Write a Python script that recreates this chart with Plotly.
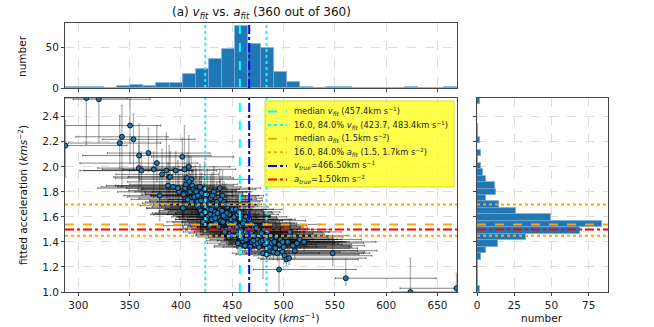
import numpy as np
import plotly.graph_objects as go

# ranges of the fitted values (histograms use 30 bins over these)
vel_min, vel_max = 287.0, 669.0
acc_min, acc_max = 1.0, 2.55

# histogram counts
vel_counts = [1, 1, 1, 0, 3, 4, 2, 6, 6, 17, 23, 36, 48, 76, 54,
              49, 20, 8, 1, 0, 1, 1, 0, 0, 0, 0, 1, 0, 0, 1]
acc_counts = [2, 1, 1, 1, 1, 3, 6, 14, 33, 69, 84, 50, 26, 15, 6,
              13, 12, 6, 4, 3, 1, 3, 0, 2, 1, 1, 0, 0, 0, 2]

# summary lines
v_med, v_p16, v_p84, v_true = 457.4, 423.7, 483.4, 466.5
a_med, a_p16, a_p84, a_true = 1.54, 1.45, 1.70, 1.50

# fitted points (estimated from the scatter)
vel_fit = [
    287.4, 307.8, 320.0, 340.3, 342.5, 350.4, 353.7, 359.2, 359.0, 361.5, 368.3, 373.5, 376.5, 381.6, 379.3, 385.8, 387.4, 388.5, 389.5, 392.3, 394.9, 398.1, 401.4, 397.0, 401.4,
    403.4, 407.6, 406.0, 410.0, 402.5, 404.0, 405.0, 408.0, 409.0, 411.0, 412.0, 413.0, 403.0, 406.5, 414.0, 410.5, 402.0,
    415.0, 416.0, 417.0, 418.0, 419.0, 420.0, 421.0, 422.0, 423.0, 424.0, 425.0, 426.0, 418.5, 420.5, 416.5, 422.5, 424.5, 426.5, 415.5, 419.5, 421.5, 423.5, 425.5,
    427.5, 428.5, 429.0, 430.0, 431.0, 432.0, 433.0, 434.0, 435.0, 436.0, 437.8, 438.0, 439.0, 428.0, 430.5, 432.5, 434.5, 436.5, 438.5, 429.5, 433.5, 435.5,
    440.0, 441.0, 442.0, 443.0, 444.0, 445.0, 446.0, 447.0, 448.0, 449.0, 450.0, 451.0, 452.0, 440.5, 442.5, 444.5, 446.5, 448.5, 450.5, 452.2, 441.5, 443.5, 447.5, 449.5,
    453.0, 454.0, 455.0, 456.0, 457.0, 458.0, 459.0, 460.0, 461.0, 462.0, 463.0, 464.0, 465.0, 453.5, 455.5, 457.5, 459.5, 461.5, 463.5, 454.5, 456.5, 458.5, 460.5, 462.5, 464.5, 455.2, 459.2, 463.2,
    466.0, 467.0, 468.0, 469.0, 470.0, 471.0, 472.0, 473.0, 474.0, 475.0, 476.0, 477.0, 466.5, 468.5, 470.5, 472.5, 474.5, 476.5, 467.5, 471.5, 473.5, 477.5,
    478.5, 479.5, 480.0, 481.0, 482.0, 483.0, 484.0, 485.0, 486.0, 487.0, 488.0, 489.0, 490.0, 480.5, 482.5, 484.5, 486.5, 488.5, 483.5, 487.5,
    491.0, 492.0, 493.0, 494.0, 495.6, 496.0, 497.0, 498.9, 500.0, 501.0, 502.8, 499.0, 505.4, 509.0, 513.0, 515.7, 507.0, 511.0, 504.0, 506.0, 520.0, 547.9, 560.6, 623.6, 668.5,
]
acc_fit = [
    2.17, 2.55, 2.54, 2.19, 2.24, 2.33, 2.22, 2.09, 1.99, 1.97, 2.11, 1.98, 2.03, 1.94, 1.77, 1.97, 1.85, 1.92, 1.92, 1.84, 1.97, 1.80, 2.08, 1.83, 1.67,
    1.98, 2.00, 1.91, 1.90, 1.78, 1.83, 1.86, 1.88, 1.80, 1.85, 1.82, 1.76, 1.70, 1.74, 1.81, 1.72, 1.67,
    1.80, 1.72, 1.68, 1.76, 1.65, 1.79, 1.70, 1.63, 1.82, 1.74, 1.67, 1.60, 1.84, 1.62, 1.77, 1.71, 1.58, 1.66, 1.69, 1.73, 1.56, 1.64, 1.78,
    1.70, 1.62, 1.75, 1.58, 1.68, 1.80, 1.64, 1.55, 1.72, 1.60, 1.83, 1.66, 1.57, 1.53, 1.77, 1.61, 1.69, 1.52, 1.74, 1.66, 1.59, 1.63,
    1.65, 1.56, 1.72, 1.60, 1.50, 1.68, 1.55, 1.62, 1.47, 1.58, 1.66, 1.52, 1.60, 1.77, 1.48, 1.63, 1.44, 1.54, 1.49, 1.56, 1.61, 1.70, 1.51, 1.45,
    1.55, 1.48, 1.62, 1.51, 1.44, 1.58, 1.50, 1.41, 1.54, 1.47, 1.60, 1.52, 1.45, 1.66, 1.39, 1.53, 1.46, 1.57, 1.42, 1.52, 1.64, 1.49, 1.55, 1.37, 1.50, 1.46, 1.43, 1.48,
    1.50, 1.44, 1.55, 1.40, 1.48, 1.52, 1.38, 1.46, 1.42, 1.50, 1.36, 1.45, 1.58, 1.47, 1.41, 1.53, 1.39, 1.48, 1.36, 1.45, 1.51, 1.40,
    1.47, 1.41, 1.31, 1.50, 1.38, 1.44, 1.35, 1.46, 1.40, 1.33, 1.43, 1.37, 1.32, 1.54, 1.42, 1.48, 1.36, 1.39, 1.30, 1.45,
    1.40, 1.35, 1.44, 1.31, 1.18, 1.38, 1.42, 1.32, 1.36, 1.29, 1.26, 1.40, 1.27, 1.37, 1.39, 1.42, 1.45, 1.33, 1.40, 1.48, 1.40, 1.31, 1.11, 1.00, 1.03,
]
vel_err_lo = [
    10, 20, 25, 50, 45, 65, 30, 55, 40, 60, 40, 50, 75, 45, 35, 80, 60, 40, 55, 70, 45, 60, 30, 50, 35,
    60, 45, 70, 50, 40, 85, 55, 60, 45, 75, 50, 40, 30, 55, 65, 45, 35,
    60, 35, 45, 70, 40, 55, 30, 50, 65, 45, 40, 35, 80, 50, 45, 60, 30, 40, 55, 50, 35, 45, 60,
    40, 55, 70, 35, 50, 60, 45, 30, 65, 40, 75, 50, 35, 45, 60, 40, 55, 30, 50, 45, 35, 60,
    50, 40, 65, 35, 45, 55, 30, 60, 40, 50, 45, 35, 55, 70, 40, 50, 30, 45, 35, 60, 40, 55, 45, 35,
    45, 35, 60, 40, 30, 55, 45, 35, 50, 40, 65, 45, 35, 70, 30, 50, 40, 55, 35, 45, 60, 40, 50, 30, 45, 40, 35, 50,
    40, 35, 50, 30, 45, 55, 35, 40, 30, 50, 35, 45, 60, 40, 35, 50, 30, 45, 35, 40, 55, 30,
    40, 35, 30, 45, 35, 40, 30, 50, 35, 30, 40, 35, 30, 55, 40, 45, 35, 40, 30, 45,
    35, 30, 40, 30, 25, 35, 40, 30, 35, 30, 25, 40, 30, 35, 40, 35, 45, 30, 40, 45, 35, 60, 10, 18, 55,
]
vel_err_hi = [
    60, 40, 50, 40, 45, 30, 60, 70, 35, 50, 60, 30, 40, 55, 40, 25, 45, 60, 35, 50, 40, 70, 50, 45, 40,
    50, 40, 45, 60, 35, 40, 50, 30, 55, 40, 45, 60, 50, 35, 40, 50, 45,
    35, 50, 40, 45, 60, 40, 55, 35, 50, 45, 30, 60, 40, 55, 35, 45, 50, 40, 30, 60, 45, 40, 35,
    45, 35, 50, 60, 40, 35, 55, 45, 30, 50, 40, 45, 60, 35, 45, 55, 40, 50, 35, 40, 60, 45,
    40, 55, 35, 50, 45, 40, 60, 35, 50, 45, 40, 55, 35, 40, 60, 45, 50, 35, 55, 40, 45, 35, 50, 60,
    50, 55, 40, 60, 45, 50, 55, 60, 45, 50, 40, 55, 60, 45, 50, 55, 40, 60, 65, 45, 40, 55, 50, 60, 45, 50, 55, 40,
    55, 60, 45, 65, 50, 45, 60, 55, 70, 50, 65, 55, 45, 60, 55, 50, 75, 60, 65, 55, 50, 70,
    60, 70, 55, 65, 75, 60, 80, 55, 70, 85, 60, 75, 65, 55, 70, 60, 80, 65, 90, 60,
    70, 80, 65, 90, 75, 70, 60, 80, 65, 85, 70, 60, 75, 70, 65, 60, 55, 80, 60, 50, 70, 30, 88, 45, 5,
]
acc_err_lo = [
    0.25, 0.37, 0.34, 0.20, 0.40, 0.30, 0.25, 0.20, 0.15, 0.20, 0.15, 0.18, 0.15, 0.12, 0.20, 0.22, 0.15, 0.12, 0.18, 0.14, 0.22, 0.10, 0.40, 0.15, 0.18,
    0.20, 0.30, 0.25, 0.15, 0.12, 0.18, 0.20, 0.14, 0.16, 0.22, 0.15, 0.12, 0.10, 0.14, 0.18, 0.12, 0.15,
    0.15, 0.12, 0.10, 0.18, 0.14, 0.20, 0.12, 0.10, 0.16, 0.14, 0.12, 0.08, 0.22, 0.10, 0.15, 0.12, 0.09, 0.11, 0.13, 0.14, 0.10, 0.12, 0.16,
    0.12, 0.10, 0.15, 0.09, 0.12, 0.18, 0.11, 0.08, 0.14, 0.10, 0.20, 0.12, 0.09, 0.08, 0.16, 0.10, 0.13, 0.08, 0.15, 0.11, 0.09, 0.10,
    0.12, 0.10, 0.15, 0.10, 0.08, 0.14, 0.09, 0.12, 0.08, 0.10, 0.14, 0.09, 0.11, 0.18, 0.08, 0.12, 0.07, 0.09, 0.08, 0.10, 0.11, 0.15, 0.09, 0.08,
    0.10, 0.08, 0.12, 0.09, 0.07, 0.11, 0.08, 0.07, 0.10, 0.08, 0.12, 0.09, 0.08, 0.14, 0.07, 0.10, 0.08, 0.11, 0.07, 0.09, 0.13, 0.08, 0.10, 0.06, 0.08, 0.08, 0.07, 0.09,
    0.09, 0.08, 0.10, 0.07, 0.08, 0.10, 0.07, 0.08, 0.07, 0.09, 0.06, 0.08, 0.12, 0.08, 0.07, 0.10, 0.07, 0.09, 0.06, 0.08, 0.09, 0.07,
    0.08, 0.07, 0.20, 0.09, 0.07, 0.08, 0.07, 0.09, 0.07, 0.06, 0.08, 0.07, 0.06, 0.10, 0.08, 0.09, 0.07, 0.08, 0.06, 0.09,
    0.07, 0.06, 0.08, 0.06, 0.20, 0.07, 0.08, 0.06, 0.07, 0.06, 0.05, 0.07, 0.05, 0.06, 0.07, 0.07, 0.08, 0.06, 0.07, 0.08, 0.07, 0.10, 0.05, 0.02, 0.05,
]
acc_err_hi = [
    0.20, 0.10, 0.10, 0.22, 0.25, 0.30, 0.20, 0.25, 0.18, 0.15, 0.20, 0.14, 0.30, 0.20, 0.15, 0.30, 0.18, 0.25, 0.20, 0.16, 0.15, 0.20, 0.15, 0.22, 0.12,
    0.35, 0.25, 0.20, 0.18, 0.15, 0.10, 0.16, 0.20, 0.14, 0.12, 0.18, 0.15, 0.20, 0.12, 0.20, 0.16, 0.14,
    0.18, 0.14, 0.12, 0.15, 0.20, 0.16, 0.14, 0.12, 0.22, 0.10, 0.15, 0.12, 0.18, 0.14, 0.12, 0.16, 0.10, 0.13, 0.11, 0.15, 0.12, 0.14, 0.20,
    0.14, 0.12, 0.18, 0.10, 0.15, 0.20, 0.12, 0.10, 0.16, 0.12, 0.15, 0.14, 0.10, 0.09, 0.18, 0.12, 0.14, 0.10, 0.16, 0.12, 0.10, 0.12,
    0.14, 0.12, 0.16, 0.12, 0.10, 0.15, 0.11, 0.13, 0.09, 0.12, 0.15, 0.10, 0.12, 0.20, 0.09, 0.13, 0.08, 0.10, 0.09, 0.12, 0.12, 0.16, 0.10, 0.09,
    0.12, 0.10, 0.14, 0.11, 0.09, 0.13, 0.10, 0.08, 0.12, 0.09, 0.14, 0.10, 0.09, 0.16, 0.08, 0.11, 0.09, 0.13, 0.08, 0.10, 0.15, 0.09, 0.11, 0.08, 0.10, 0.09, 0.08, 0.10,
    0.10, 0.09, 0.12, 0.08, 0.10, 0.11, 0.08, 0.09, 0.08, 0.10, 0.07, 0.09, 0.14, 0.09, 0.08, 0.11, 0.08, 0.10, 0.07, 0.09, 0.10, 0.08,
    0.10, 0.09, 0.08, 0.11, 0.08, 0.10, 0.08, 0.10, 0.09, 0.07, 0.09, 0.08, 0.07, 0.12, 0.09, 0.10, 0.08, 0.09, 0.07, 0.10,
    0.09, 0.08, 0.10, 0.08, 0.12, 0.09, 0.10, 0.08, 0.09, 0.07, 0.07, 0.09, 0.07, 0.08, 0.09, 0.09, 0.10, 0.08, 0.09, 0.10, 0.09, 0.12, 0.15, 0.27, 0.12,
]

# legend labels
legend_labels = [
    'median <i>v</i><sub><i>fit</i></sub> (457.4km s<sup>−1</sup>)',
    '16.0, 84.0% <i>v</i><sub><i>fit</i></sub> (423.7, 483.4km s<sup>−1</sup>)',
    'median <i>a</i><sub><i>fit</i></sub> (1.5km s<sup>−2</sup>)',
    '16.0, 84.0% <i>a</i><sub><i>fit</i></sub> (1.5, 1.7km s<sup>−2</sup>)',
    '<i>v</i><sub><i>true</i></sub>=466.50km s<sup>−1</sup>',
    '<i>a</i><sub><i>true</i></sub>=1.50km s<sup>−2</sup>',
]
legend_styles = [('cyan', 'dash'), ('cyan', 'dot'), ('orange', 'dash'),
                 ('orange', 'dot'), ('blue', 'dashdot'), ('red', 'dashdot')]

W, H = 654, 327


def fx(p):
    return p / W


def fy(p):
    return 1 - p / H


vel_edges = np.linspace(vel_min, vel_max, len(vel_counts) + 1)
acc_edges = np.linspace(acc_min, acc_max, len(acc_counts) + 1)
vel_centers = (vel_edges[:-1] + vel_edges[1:]) / 2
acc_centers = (acc_edges[:-1] + acc_edges[1:]) / 2

fig = go.Figure()

bar_style = dict(color='#1f77b4', line=dict(color='rgba(120,170,220,0.9)', width=0.8))

fig.add_trace(go.Bar(x=vel_centers, y=vel_counts, width=vel_edges[1] - vel_edges[0],
                     marker=bar_style, xaxis='x2', yaxis='y2'))
fig.add_trace(go.Bar(y=acc_centers, x=acc_counts, width=acc_edges[1] - acc_edges[0],
                     orientation='h', marker=bar_style, xaxis='x3', yaxis='y3'))

fig.add_trace(go.Scatter(
    x=vel_fit, y=acc_fit, mode='markers',
    marker=dict(size=5, color='#1f77b4', line=dict(color='black', width=0.8)),
    error_x=dict(type='data', symmetric=False, array=vel_err_hi, arrayminus=vel_err_lo,
                 color='rgba(0,0,0,0.7)', thickness=0.7, width=1),
    error_y=dict(type='data', symmetric=False, array=acc_err_hi, arrayminus=acc_err_lo,
                 color='rgba(0,0,0,0.3)', thickness=1.3, width=1),
))

vlines = [(v_med, 'cyan', 'dash'), (v_p16, 'cyan', 'dot'), (v_p84, 'cyan', 'dot'), (v_true, 'blue', 'dashdot')]
hlines = [(a_med, 'orange', 'dash'), (a_p16, 'orange', 'dot'), (a_p84, 'orange', 'dot'), (a_true, 'red', 'dashdot')]
for xr, yr in [('x', 'y domain'), ('x2', 'y2 domain')]:
    for v, col, dash in vlines:
        fig.add_shape(type='line', xref=xr, yref=yr, x0=v, x1=v, y0=0, y1=1,
                      line=dict(color=col, dash=dash, width=2))
for xr, yr in [('x domain', 'y'), ('x3 domain', 'y3')]:
    for a, col, dash in hlines:
        fig.add_shape(type='line', xref=xr, yref=yr, x0=0, x1=1, y0=a, y1=a,
                      line=dict(color=col, dash=dash, width=2))

# legend box drawn by hand (matplotlib-style compact rows)
fig.add_shape(type='rect', xref='paper', yref='paper', x0=fx(265), x1=fx(454), y0=fy(187), y1=fy(101),
              fillcolor='rgba(255,255,30,0.8)', line=dict(color='rgba(215,215,0,0.9)', width=1))
annotations = []
for i, (label, (col, dash)) in enumerate(zip(legend_labels, legend_styles)):
    yrow = 111.5 + i * 13.6
    fig.add_shape(type='line', xref='paper', yref='paper', x0=fx(268), x1=fx(287), y0=fy(yrow), y1=fy(yrow),
                  line=dict(color=col, dash=dash, width=2))
    annotations.append(dict(text=label, x=fx(292), y=fy(yrow), xref='paper', yref='paper',
                            xanchor='left', yanchor='middle', showarrow=False,
                            font=dict(size=8.3, color='#222')))

text_anns = [
    ('(a) <i>v</i><sub><i>fit</i></sub> vs. <i>a</i><sub><i>fit</i></sub> (360 out of 360)', 261, 13, 0, 12),
    ('fitted velocity (<i>kms</i><sup>−1</sup>)', 261, 317, 0, 10.5),
    ('number', 542, 318, 0, 10.5),
    ('fitted acceleration (<i>kms</i><sup>−2</sup>)', 22, 195, -90, 10.5),
    ('number', 22, 56, -90, 10.5),
]
for text, x, y, ang, size in text_anns:
    annotations.append(dict(text=text, x=fx(x), y=fy(y), xref='paper', yref='paper', showarrow=False,
                            xanchor='center', yanchor='middle', textangle=ang,
                            font=dict(size=size, color='#111')))

ax = dict(showline=True, linecolor='#444', linewidth=1, mirror=True, showgrid=True,
          gridcolor='#dcdcdc', griddash='dash', gridwidth=0.8, ticks='outside', ticklen=3,
          tickcolor='#444', zeroline=False, automargin=False, tickfont=dict(size=10.5, color='#222'))

fig.update_layout(
    width=W, height=H, margin=dict(l=0, r=0, t=0, b=0, autoexpand=False), showlegend=False,
    plot_bgcolor='white', paper_bgcolor='white', bargap=0,
    font=dict(family='DejaVu Sans', size=10.5, color='#222'),
    xaxis=dict(ax, domain=[fx(65), fx(457)], range=[vel_min, vel_max], anchor='y',
               tickvals=[300, 350, 400, 450, 500, 550, 600, 650]),
    yaxis=dict(ax, domain=[fy(292), fy(98)], range=[acc_min, acc_max], anchor='x',
               tickvals=[1.0, 1.2, 1.4, 1.6, 1.8, 2.0, 2.2, 2.4], tickformat='.1f'),
    xaxis2=dict(ax, domain=[fx(65), fx(457)], range=[vel_min, vel_max], anchor='y2',
                tickvals=[300, 350, 400, 450, 500, 550, 600, 650], showticklabels=False),
    yaxis2=dict(ax, domain=[fy(88), fy(23)], range=[0, 80], anchor='x2', tickvals=[0, 50]),
    xaxis3=dict(ax, domain=[fx(477), fx(608)], range=[0, 88], anchor='y3', tickvals=[0, 25, 50, 75]),
    yaxis3=dict(ax, domain=[fy(292), fy(98)], range=[acc_min, acc_max], anchor='x3',
                tickvals=[1.0, 1.2, 1.4, 1.6, 1.8, 2.0, 2.2, 2.4], showticklabels=False),
    annotations=annotations,
)

# the page body's default 8px margin would push the figure out of the window
fig.write_html("out.html", config={'displayModeBar': False},
               post_script="document.body.style.margin='0px';")
